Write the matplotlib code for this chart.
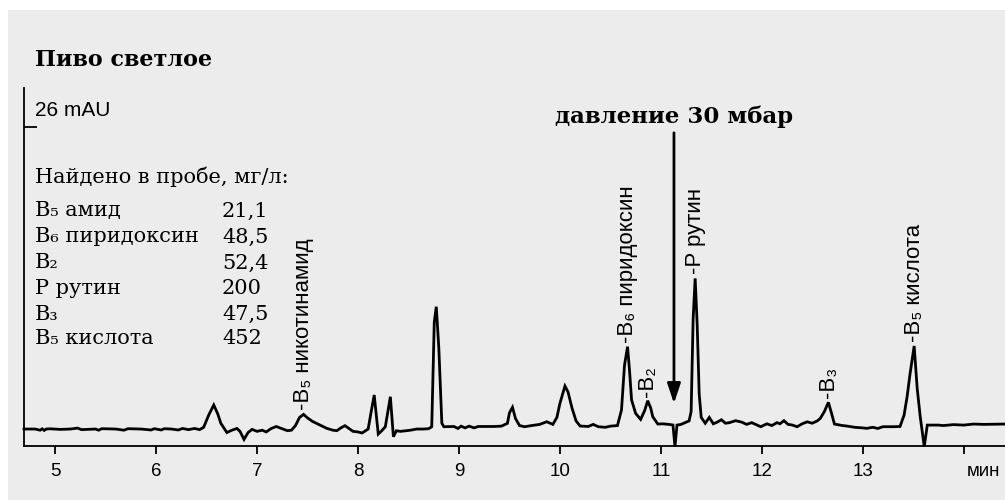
#!/usr/bin/env python
# -*- coding: utf-8 -*-
"""
Chromatogram: vitamins in light beer (HPLC trace)
"""

import matplotlib
matplotlib.use('Agg')
import matplotlib.pyplot as plt
import numpy as np
from matplotlib.patches import Rectangle

SANS = ['Liberation Sans', 'DejaVu Sans']
SERIF = ['DejaVu Serif']

# trace: retention time (min) and signal (mAU)
times = [
    4.69, 4.80, 4.85, 4.87, 4.89, 4.91, 4.95, 5.05, 5.15, 5.22, 5.26, 5.40,
    5.43, 5.46, 5.60, 5.68, 5.72, 5.85, 5.95, 5.98, 6.05, 6.08, 6.15, 6.22,
    6.26, 6.32, 6.38, 6.43, 6.47, 6.52, 6.57, 6.61, 6.64, 6.70, 6.75, 6.80,
    6.83, 6.87, 6.91, 6.95, 7.00, 7.05, 7.09, 7.14, 7.19, 7.24, 7.30, 7.34,
    7.38, 7.42, 7.46, 7.50, 7.55, 7.62, 7.69, 7.75, 7.79, 7.83, 7.87, 7.91,
    7.95, 8.00, 8.04, 8.10, 8.13, 8.16, 8.20, 8.24, 8.27, 8.32, 8.35, 8.38,
    8.42, 8.47, 8.52, 8.58, 8.65, 8.70, 8.73, 8.755, 8.775, 8.80, 8.83, 8.85,
    8.95, 8.99, 9.02, 9.06, 9.10, 9.15, 9.19, 9.25, 9.35, 9.42, 9.48, 9.50,
    9.53, 9.56, 9.60, 9.65, 9.72, 9.80, 9.87, 9.93, 9.97, 10.00, 10.05, 10.08,
    10.12, 10.16, 10.20, 10.28, 10.33, 10.38, 10.45, 10.50, 10.57, 10.61, 10.64, 10.67,
    10.69, 10.71, 10.75, 10.80, 10.84, 10.87, 10.90, 10.92, 10.97, 11.02, 11.08, 11.12,
    11.14, 11.16, 11.20, 11.24, 11.28, 11.30, 11.32, 11.34, 11.36, 11.38, 11.40, 11.44,
    11.48, 11.52, 11.56, 11.60, 11.64, 11.68, 11.74, 11.80, 11.85, 11.90, 11.95, 11.99,
    12.05, 12.10, 12.15, 12.18, 12.22, 12.26, 12.30, 12.35, 12.40, 12.45, 12.50, 12.55,
    12.58, 12.62, 12.66, 12.69, 12.72, 12.80, 12.85, 12.92, 13.00, 13.04, 13.10, 13.15,
    13.20, 13.30, 13.37, 13.41, 13.44, 13.47, 13.51, 13.54, 13.57, 13.61, 13.64, 13.75,
    13.80, 13.90, 14.00, 14.10, 14.20, 14.41,
]
signal = [
    0.00, 0.00, -0.10, 0.02, -0.12, 0.00, 0.02, -0.03, 0.00, 0.08, -0.05, 0.00,
    -0.10, 0.03, 0.00, -0.10, 0.03, 0.00, -0.08, 0.03, -0.08, 0.03, 0.00, -0.08,
    0.05, -0.05, 0.05, -0.05, 0.15, 1.20, 2.07, 1.30, 0.50, -0.30, -0.10, 0.05,
    -0.20, -0.89, -0.30, -0.03, -0.20, -0.10, -0.25, 0.05, 0.22, 0.05, -0.14, -0.10,
    0.30, 1.00, 1.26, 0.95, 0.65, 0.35, 0.06, -0.10, -0.14, 0.10, 0.29, 0.05,
    -0.20, -0.25, -0.34, 0.00, 1.50, 2.93, -0.43, -0.10, 0.20, 2.78, -0.66, -0.15,
    -0.20, -0.15, -0.10, 0.00, 0.00, 0.03, 0.20, 9.20, 10.53, 7.00, 0.50, 0.20,
    0.22, 0.05, 0.25, 0.10, 0.25, 0.10, 0.22, 0.22, 0.22, 0.25, 0.49, 1.40,
    1.87, 0.90, 0.30, 0.20, 0.30, 0.40, 0.63, 0.40, 1.00, 2.21, 3.70, 3.20,
    1.80, 0.70, 0.26, 0.22, 0.40, 0.20, 0.15, 0.25, 0.30, 1.64, 5.50, 7.09,
    5.00, 2.50, 1.35, 0.83, 1.60, 2.44, 1.80, 1.06, 0.43, 0.45, 0.40, 0.35,
    -1.52, 0.34, 0.40, 0.55, 0.70, 1.50, 9.50, 12.97, 9.00, 3.00, 1.00, 0.50,
    1.00, 0.45, 0.60, 0.80, 0.50, 0.55, 0.72, 0.60, 0.40, 0.55, 0.35, 0.20,
    0.45, 0.30, 0.55, 0.45, 0.72, 0.40, 0.35, 0.20, 0.45, 0.62, 0.50, 0.70,
    0.92, 1.50, 2.30, 1.40, 0.43, 0.30, 0.25, 0.15, 0.10, 0.06, 0.15, 0.05,
    0.20, 0.20, 0.22, 1.20, 2.78, 4.80, 7.15, 3.50, 1.06, -1.52, 0.34, 0.34,
    0.30, 0.38, 0.34, 0.43, 0.40, 0.43,
]

# annotated peaks
peak_times = [7.46, 10.67, 10.87, 11.34, 12.66, 13.51]
peak_labels = ['-B\u2085 никотинамид', '-B\u2086 пиридоксин', '-B\u2082',
               '-P рутин', '-B\u2083', '-B\u2085 кислота']

# table "found in sample"
found_names = ['B\u2085 амид', 'B\u2086 пиридоксин', 'B\u2082', 'P рутин',
               'B\u2083', 'B\u2085 кислота']
found_values = ['21,1', '48,5', '52,4', '200', '47,5', '452']

x_ticks = [5, 6, 7, 8, 9, 10, 11, 12, 13, 14]
x_tick_labels = ['5', '6', '7', '8', '9', '10', '11', '12', '13', '']
scale_mark = 26
pressure_time = 11.13

W, H = 1005.0, 500.0


def fx(px):
    return px / W


def fy(py):
    return 1 - py / H


def main():
    fig = plt.figure(figsize=(W / 100, H / 100), dpi=100, facecolor='white')
    fig.patches.append(Rectangle((fx(8), 0), 1, fy(10), transform=fig.transFigure,
                                 facecolor='#ececec', edgecolor='none', zorder=-10))

    ax = fig.add_axes([fx(24), fy(446), fx(1005 - 24), (446 - 88) / H])
    ax.set_facecolor('none')
    ax.plot(times, signal, color='black', lw=2.0, solid_joinstyle='miter', clip_on=False)

    ax.set_xlim(4.69, 14.41)
    ax.set_ylim(-1.46, 29.36)

    for side in ['top', 'right']:
        ax.spines[side].set_visible(False)
    for side in ['left', 'bottom']:
        ax.spines[side].set_linewidth(1.3)

    ax.set_xticks(x_ticks)
    ax.set_xticklabels(x_tick_labels, family=SANS)
    ax.tick_params(axis='x', direction='out', length=6, width=1.3, pad=6,
                   labelsize=13.5, colors='black')
    ax.set_yticks([scale_mark])
    ax.tick_params(axis='y', direction='in', length=9, width=1.3, labelleft=False)

    ax.text(fx(983), fy(472), 'мин', transform=fig.transFigure, fontsize=13.5,
            family=SANS, ha='center', va='center')
    fig.text(fx(35), fy(110), '%d mAU' % scale_mark, fontsize=15, family=SANS,
             ha='left', va='center')

    # peak labels
    for t, lab in zip(peak_times, peak_labels):
        h = np.interp(t, times, signal)
        ax.annotate(lab, xy=(t, h), xytext=(0, 3), textcoords='offset points',
                    rotation=90, ha='center', va='bottom', fontsize=16, family=SANS)

    # pressure arrow
    fig.text(fx(674), fy(117), 'давление 30 мбар', fontsize=16.5, family=SERIF,
             fontweight='bold', ha='center', va='center')
    ax.annotate('', xy=(pressure_time, 2.2), xytext=(pressure_time, 25.5),
                arrowprops=dict(arrowstyle='-|>,head_length=1.2,head_width=0.4',
                                lw=2.0, color='black', shrinkA=0, shrinkB=0))

    # title and table
    fig.text(fx(35), fy(60), 'Пиво светлое', fontsize=16, family=SERIF,
             fontweight='bold', ha='left', va='center')
    fig.text(fx(35), fy(177), 'Найдено в пробе, мг/л:', fontsize=15, family=SERIF,
             ha='left', va='center')
    rows_y = [211, 237, 263, 288, 314, 339]
    for name, val, ry in zip(found_names, found_values, rows_y):
        fig.text(fx(35), fy(ry), name, fontsize=15, family=SERIF, ha='left', va='center')
        fig.text(fx(222), fy(ry), val, fontsize=15, family=SERIF, ha='left', va='center')

    fig.savefig('out.png', dpi=100, facecolor='white')
    plt.close(fig)


if __name__ == '__main__':
    main()
